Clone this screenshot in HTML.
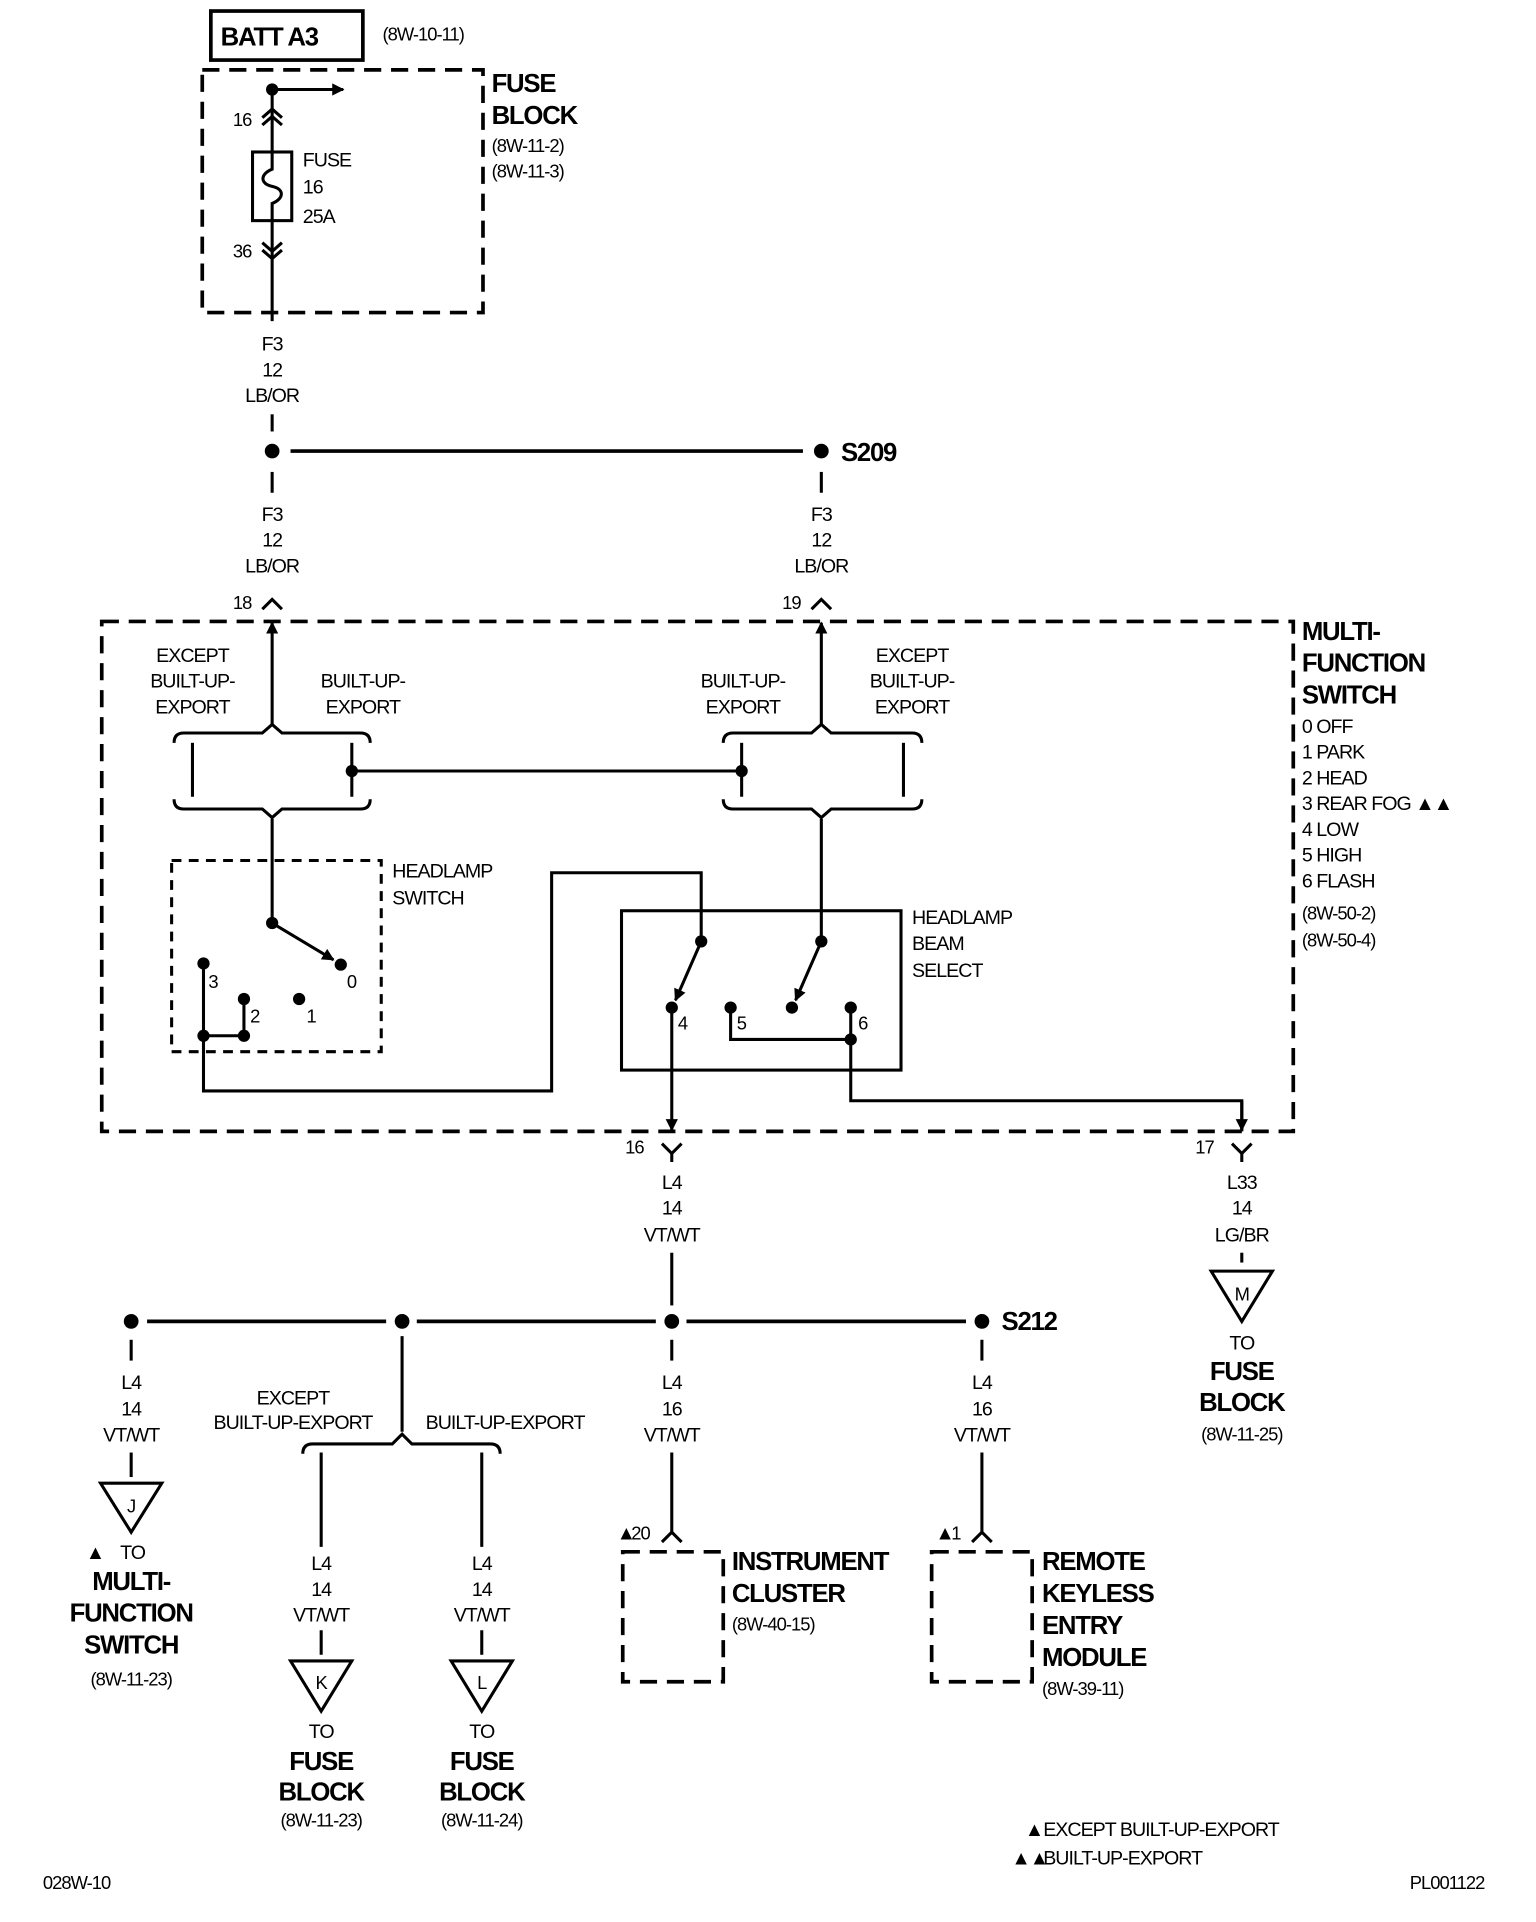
<!DOCTYPE html>
<html><head><meta charset="utf-8"><style>
html,body{margin:0;padding:0;background:#fff}
svg{display:block}
text{font-family:"Liberation Sans",Arial,sans-serif;font-size:16px;letter-spacing:-0.8px;fill:#000}
.b{font-weight:bold;font-size:21px;letter-spacing:-1px}
.c{text-anchor:middle}
.s{font-size:15px}
</style></head><body>
<svg width="1536" height="1922" viewBox="0 0 1253 1568" preserveAspectRatio="none" xmlns="http://www.w3.org/2000/svg">
<defs>
<marker id="ah" markerWidth="10" markerHeight="10" refX="9" refY="5" orient="auto" markerUnits="userSpaceOnUse"><path d="M0,0 L10,5 L0,10 z" fill="#000"/></marker>
</defs>
<g stroke="#000" stroke-width="2.5" fill="none">
<rect x="172" y="9" width="124" height="40" stroke-width="3"/>
<rect x="165" y="57" width="229" height="198" stroke-dasharray="14 8" stroke-width="3"/>
<line x1="222" y1="73" x2="222" y2="124"/>
<line x1="222" y1="73" x2="280" y2="73" marker-end="url(#ah)"/>
<path d="M214,96 L222,89 L230,96 M214,102 L222,95 L230,102"/>
<rect x="206" y="124" width="32" height="56"/>
<path d="M222,124 V138 C212,142 212,150 222,152 C232,154 232,162 222,166 V180"/>
<line x1="222" y1="180" x2="222" y2="262"/>
<path d="M214,198 L222,205 L230,198 M214,204 L222,211 L230,204"/>
<line x1="222" y1="338" x2="222" y2="352"/>
<line x1="237" y1="368" x2="655" y2="368" stroke-width="3"/>
<line x1="222" y1="385" x2="222" y2="402"/><line x1="670" y1="385" x2="670" y2="402"/>
<rect x="83" y="507" width="972" height="416" stroke-dasharray="14 8" stroke-width="3"/>
<path d="M214,497 L222,489 L230,497 M662,497 L670,489 L678,497"/>
<line x1="222" y1="592" x2="222" y2="508" marker-end="url(#ah)"/>
<line x1="670" y1="592" x2="670" y2="508" marker-end="url(#ah)"/>
<path d="M142,606 Q142,598 150,598 L214,598 L222,591 L230,598 L294,598 Q302,598 302,606"/>
<path d="M142,652 Q142,660 150,660 L214,660 L222,667 L230,660 L294,660 Q302,660 302,652"/>
<path d="M590,606 Q590,598 598,598 L662,598 L670,591 L678,598 L744,598 Q752,598 752,606"/>
<path d="M590,652 Q590,660 598,660 L662,660 L670,667 L678,660 L744,660 Q752,660 752,652"/>
<line x1="157" y1="606" x2="157" y2="650"/><line x1="287" y1="606" x2="287" y2="650"/>
<line x1="605" y1="606" x2="605" y2="650"/><line x1="737" y1="606" x2="737" y2="650"/>
<line x1="287" y1="629" x2="605" y2="629"/>
<line x1="222" y1="668" x2="222" y2="753"/>
<line x1="222" y1="753" x2="272" y2="783" marker-end="url(#ah)"/>
<rect x="140" y="702" width="171" height="156" stroke-dasharray="8 6"/>
<path d="M166,786 V890 H450 V712 H572 V768"/>
<path d="M166,845 H199 V815"/>
<rect x="507" y="743" width="228" height="130"/>
<line x1="572" y1="768" x2="551" y2="816" marker-end="url(#ah)"/>
<line x1="670" y1="668" x2="670" y2="768"/>
<line x1="670" y1="768" x2="649" y2="816" marker-end="url(#ah)"/>
<path d="M596,822 V848 H694"/>
<path d="M694,822 V898 H1013 V923"/>
<line x1="548" y1="822" x2="548" y2="922" marker-end="url(#ah)"/>
<line x1="1013" y1="898" x2="1013" y2="922" marker-end="url(#ah)"/>
<path d="M540,933 L548,941 L556,933 M548,941 V948 M1005,933 L1013,941 L1021,933 M1013,941 V948"/>
<line x1="548" y1="1022" x2="548" y2="1065"/>
<line x1="1013" y1="1022" x2="1013" y2="1030"/>
<path d="M988,1037 H1038 L1013,1078 Z"/>
<line x1="120" y1="1078" x2="315" y2="1078" stroke-width="3"/>
<line x1="340" y1="1078" x2="535" y2="1078" stroke-width="3"/>
<line x1="560" y1="1078" x2="788" y2="1078" stroke-width="3"/>
<line x1="107" y1="1093" x2="107" y2="1110"/>
<line x1="107" y1="1185" x2="107" y2="1205"/>
<path d="M82,1210 H132 L107,1250 Z"/>
<line x1="328" y1="1090" x2="328" y2="1168"/>
<path d="M247,1186 Q247,1178 255,1178 L320,1178 L328,1170 L336,1178 L400,1178 Q408,1178 408,1186"/>
<line x1="262" y1="1185" x2="262" y2="1262"/><line x1="393" y1="1185" x2="393" y2="1262"/>
<line x1="262" y1="1330" x2="262" y2="1350"/><line x1="393" y1="1330" x2="393" y2="1350"/>
<path d="M237,1355 H287 L262,1396 Z M368,1355 H418 L393,1396 Z"/>
<line x1="548" y1="1093" x2="548" y2="1110"/>
<line x1="548" y1="1185" x2="548" y2="1252"/>
<line x1="801" y1="1093" x2="801" y2="1110"/>
<line x1="801" y1="1185" x2="801" y2="1252"/>
<path d="M540,1258 L548,1250 L556,1258 M793,1258 L801,1250 L809,1258"/>
<rect x="508" y="1266" width="82" height="106" stroke-dasharray="14 8" stroke-width="3"/>
<rect x="760" y="1266" width="82" height="106" stroke-dasharray="14 8" stroke-width="3"/>
</g>
<g fill="#000">
<circle cx="222" cy="73" r="5"/><circle cx="222" cy="368" r="6"/><circle cx="670" cy="368" r="6"/>
<circle cx="287" cy="629" r="5"/><circle cx="605" cy="629" r="5"/>
<circle cx="222" cy="753" r="5"/><circle cx="278" cy="787" r="5"/><circle cx="166" cy="786" r="5"/>
<circle cx="199" cy="815" r="5"/><circle cx="244" cy="815" r="5"/><circle cx="166" cy="845" r="5"/><circle cx="199" cy="845" r="5"/>
<circle cx="572" cy="768" r="5"/><circle cx="670" cy="768" r="5"/><circle cx="548" cy="822" r="5"/>
<circle cx="646" cy="822" r="5"/><circle cx="596" cy="822" r="5"/><circle cx="694" cy="822" r="5"/><circle cx="694" cy="848" r="5"/>
<circle cx="107" cy="1078" r="6"/><circle cx="328" cy="1078" r="6"/><circle cx="548" cy="1078" r="6"/><circle cx="801" cy="1078" r="6"/>
</g>
<text x="180" y="37" class="b">BATT A3</text>
<text x="312" y="33" class="s">(8W-10-11)</text>
<text x="401" y="75" class="b">FUSE</text><text x="401" y="101" class="b">BLOCK</text>
<text x="401" y="124" class="s">(8W-11-2)</text><text x="401" y="145" class="s">(8W-11-3)</text>
<text x="190" y="103" class="s">16</text><text x="190" y="210" class="s">36</text>
<text x="247" y="136">FUSE</text><text x="247" y="158">16</text><text x="247" y="182">25A</text>
<text x="222" y="286" class="c">F3</text><text x="222" y="307" class="c">12</text><text x="222" y="328" class="c">LB/OR</text>
<text x="222" y="425" class="c">F3</text><text x="222" y="446" class="c">12</text><text x="222" y="467" class="c">LB/OR</text>
<text x="670" y="425" class="c">F3</text><text x="670" y="446" class="c">12</text><text x="670" y="467" class="c">LB/OR</text>
<text x="686" y="376" class="b">S209</text>
<text x="190" y="497" class="s">18</text><text x="638" y="497" class="s">19</text>
<text x="157" y="540" class="c">EXCEPT</text><text x="157" y="561" class="c">BUILT-UP-</text><text x="157" y="582" class="c">EXPORT</text>
<text x="296" y="561" class="c">BUILT-UP-</text><text x="296" y="582" class="c">EXPORT</text>
<text x="606" y="561" class="c">BUILT-UP-</text><text x="606" y="582" class="c">EXPORT</text>
<text x="744" y="540" class="c">EXCEPT</text><text x="744" y="561" class="c">BUILT-UP-</text><text x="744" y="582" class="c">EXPORT</text>
<text x="320" y="716">HEADLAMP</text><text x="320" y="738">SWITCH</text>
<text x="170" y="806" class="s">3</text><text x="204" y="834" class="s">2</text><text x="250" y="834" class="s">1</text><text x="283" y="806" class="s">0</text>
<text x="744" y="754">HEADLAMP</text><text x="744" y="775">BEAM</text><text x="744" y="797">SELECT</text>
<text x="553" y="840" class="s">4</text><text x="601" y="840" class="s">5</text><text x="700" y="840" class="s">6</text>
<text x="1062" y="522" class="b">MULTI-</text><text x="1062" y="548" class="b">FUNCTION</text><text x="1062" y="574" class="b">SWITCH</text>
<text x="1062" y="598">0 OFF</text><text x="1062" y="619">1 PARK</text><text x="1062" y="640">2 HEAD</text>
<text x="1062" y="661">3 REAR FOG  ▲▲</text><text x="1062" y="682">4 LOW</text><text x="1062" y="703">5 HIGH</text><text x="1062" y="724">6 FLASH</text>
<text x="1062" y="750" class="s">(8W-50-2)</text><text x="1062" y="772" class="s">(8W-50-4)</text>
<text x="510" y="941" class="s">16</text><text x="975" y="941" class="s">17</text>
<text x="548" y="970" class="c">L4</text><text x="548" y="991" class="c">14</text><text x="548" y="1013" class="c">VT/WT</text>
<text x="1013" y="970" class="c">L33</text><text x="1013" y="991" class="c">14</text><text x="1013" y="1013" class="c">LG/BR</text>
<text x="1013" y="1061" class="c s">M</text>
<text x="1013" y="1101" class="c">TO</text><text x="1013" y="1126" class="c b">FUSE</text><text x="1013" y="1151" class="c b">BLOCK</text><text x="1013" y="1175" class="c s">(8W-11-25)</text>
<text x="817" y="1085" class="b">S212</text>
<text x="107" y="1133" class="c">L4</text><text x="107" y="1155" class="c">14</text><text x="107" y="1176" class="c">VT/WT</text>
<text x="107" y="1234" class="c s">J</text>
<text x="70" y="1272" font-size="10">▲</text><text x="98" y="1272">TO</text>
<text x="107" y="1297" class="c b">MULTI-</text><text x="107" y="1323" class="c b">FUNCTION</text><text x="107" y="1349" class="c b">SWITCH</text><text x="107" y="1375" class="c s">(8W-11-23)</text>
<text x="239" y="1146" class="c">EXCEPT</text><text x="239" y="1166" class="c">BUILT-UP-EXPORT</text><text x="412" y="1166" class="c">BUILT-UP-EXPORT</text>
<text x="262" y="1281" class="c">L4</text><text x="262" y="1302" class="c">14</text><text x="262" y="1323" class="c">VT/WT</text>
<text x="393" y="1281" class="c">L4</text><text x="393" y="1302" class="c">14</text><text x="393" y="1323" class="c">VT/WT</text>
<text x="262" y="1378" class="c s">K</text><text x="393" y="1378" class="c s">L</text>
<text x="262" y="1418" class="c">TO</text><text x="262" y="1444" class="c b">FUSE</text><text x="262" y="1469" class="c b">BLOCK</text><text x="262" y="1490" class="c s">(8W-11-23)</text>
<text x="393" y="1418" class="c">TO</text><text x="393" y="1444" class="c b">FUSE</text><text x="393" y="1469" class="c b">BLOCK</text><text x="393" y="1490" class="c s">(8W-11-24)</text>
<text x="548" y="1133" class="c">L4</text><text x="548" y="1155" class="c">16</text><text x="548" y="1176" class="c">VT/WT</text>
<text x="801" y="1133" class="c">L4</text><text x="801" y="1155" class="c">16</text><text x="801" y="1176" class="c">VT/WT</text>
<text x="503" y="1256" font-size="10">▲</text><text x="515" y="1256" class="s">20</text>
<text x="763" y="1256" font-size="10">▲</text><text x="776" y="1256" class="s">1</text>
<text x="597" y="1281" class="b">INSTRUMENT</text><text x="597" y="1307" class="b">CLUSTER</text><text x="597" y="1330" class="s">(8W-40-15)</text>
<text x="850" y="1281" class="b">REMOTE</text><text x="850" y="1307" class="b">KEYLESS</text><text x="850" y="1333" class="b">ENTRY</text><text x="850" y="1359" class="b">MODULE</text><text x="850" y="1383" class="s">(8W-39-11)</text>
<text x="836" y="1498" font-size="10">▲</text><text x="851" y="1498">EXCEPT BUILT-UP-EXPORT</text>
<text x="825" y="1521" font-size="10">▲▲</text><text x="851" y="1521">BUILT-UP-EXPORT</text>
<text x="35" y="1541" class="s">028W-10</text><text x="1150" y="1541" class="s">PL001122</text>
</svg>
</body></html>
